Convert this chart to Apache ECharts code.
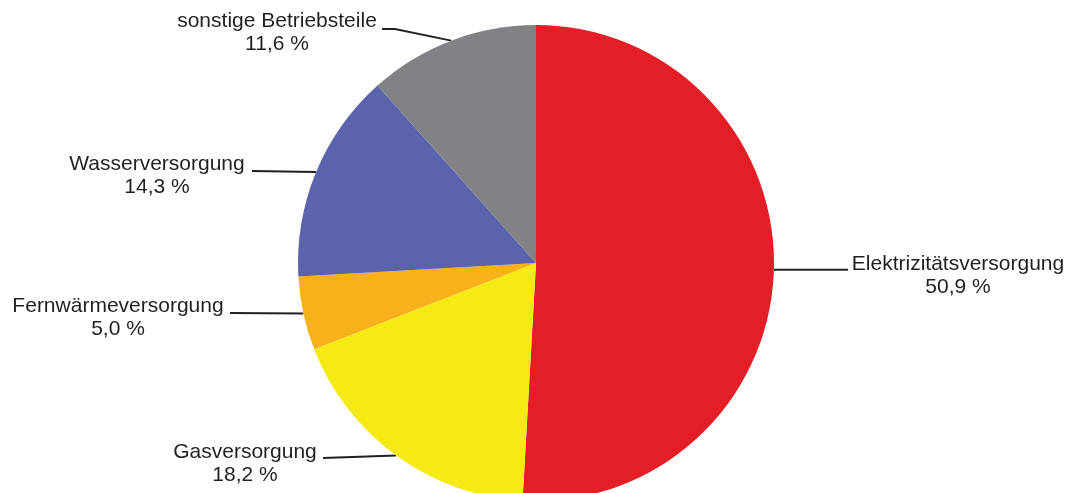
<!DOCTYPE html>
<html>
<head>
<meta charset="utf-8">
<script src="https://cdn.jsdelivr.net/npm/echarts@6/dist/echarts.min.js"></script>
<style>
html,body{margin:0;padding:0;background:#fff;}
#chart{width:1074px;height:493px;}
</style>
</head>
<body>
<div id="chart"></div>
<script>
// Data
const categories = ['Elektrizitätsversorgung', 'Gasversorgung', 'Fernwärmeversorgung', 'Wasserversorgung', 'sonstige Betriebsteile'];
const shares = [50.9, 18.2, 5.0, 14.3, 11.6];
const valueLabels = ['50,9 %', '18,2 %', '5,0 %', '14,3 %', '11,6 %'];

// Styles / layout
const colors = ['#e31e26', '#f5ea14', '#f9b11b', '#5b63ad', '#808285'];
const labelCfg = [
  { x: 958, y: 253, line: [[848, 0]] },
  { x: 245, y: 441, line: [[323, 458]] },
  { x: 118, y: 295, line: [[230, 313]] },
  { x: 157, y: 153, line: [[252, 171]] },
  { x: 277, y: 10,  line: [[395, 29], [382, 29]] }
];

const chart = echarts.init(document.getElementById('chart'), null, { renderer: 'canvas' });
chart.setOption({
  animation: false,
  backgroundColor: '#ffffff',
  series: [{
    type: 'pie',
    center: [536, 263],
    radius: 238,
    startAngle: 90,
    clockwise: true,
    avoidLabelOverlap: false,
    itemStyle: { borderWidth: 0 },
    label: {
      show: true,
      position: 'outside',
      color: '#231f20',
      fontFamily: 'Liberation Sans, Arial, sans-serif',
      fontSize: 21,
      lineHeight: 23,
      align: 'center',
      formatter: p => p.name + '\n' + valueLabels[p.dataIndex]
    },
    labelLine: {
      show: true,
      length: 10,
      length2: 10,
      lineStyle: { color: '#231f20', width: 2 }
    },
    labelLayout: function (p) {
      const c = labelCfg[p.dataIndex];
      const start = p.labelLinePoints ? p.labelLinePoints[0] : [0, 0];
      const pts = [start].concat(c.line.map(pt => [pt[0], pt[1] === 0 ? start[1] : pt[1]]));
      if (pts.length === 2) pts.splice(1, 0, [(pts[0][0] + pts[1][0]) / 2, (pts[0][1] + pts[1][1]) / 2]);
      return {
        x: c.x,
        y: c.y,
        align: 'center',
        verticalAlign: 'top',
        labelLinePoints: pts
      };
    },
    data: categories.map((n, i) => ({ name: n, value: shares[i], itemStyle: { color: colors[i] } }))
  }]
});
</script>
</body>
</html>
